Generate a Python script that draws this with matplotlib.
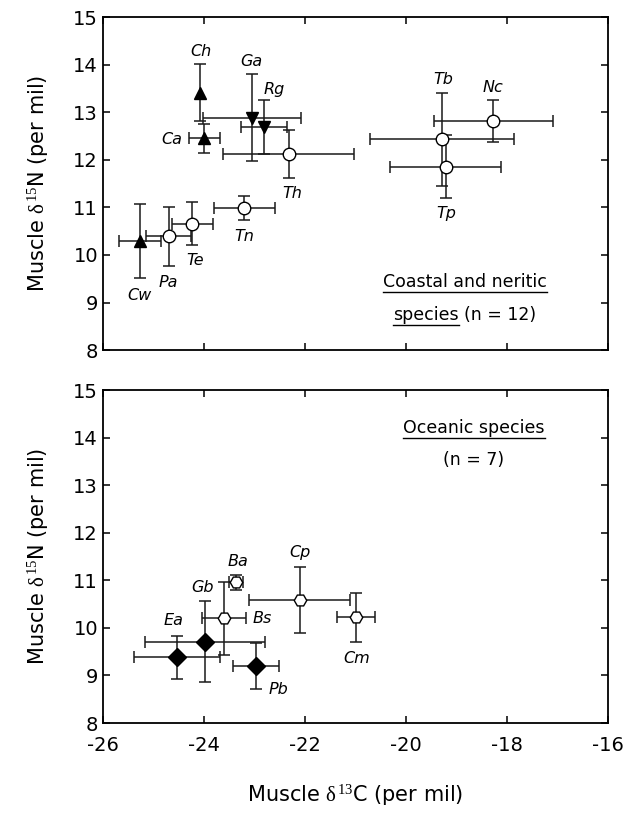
"""
Muscle d13C vs d15N for coastal/neritic and oceanic species, two panels.
Writes out.png
"""

import matplotlib
matplotlib.use("Agg")
import matplotlib.pyplot as plt

# ---- coastal and neritic species (top panel) ----
top_names = ["Ch", "Ca", "Cw", "Ga", "Rg", "Th", "Tn", "Te", "Pa", "Tb", "Nc", "Tp"]
top_x = [-24.08, -23.99, -25.27, -23.04, -22.81, -22.32, -23.20, -24.23, -24.70, -19.29, -18.27, -19.21]
top_xerr = [0.0, 0.30, 0.42, 0.97, 0.45, 1.30, 0.60, 0.40, 0.45, 1.42, 1.18, 1.10]
top_y = [13.41, 12.45, 10.29, 12.89, 12.69, 12.12, 10.99, 10.66, 10.39, 12.43, 12.81, 11.86]
top_yerr = [0.60, 0.30, 0.78, 0.92, 0.57, 0.51, 0.26, 0.45, 0.62, 0.98, 0.44, 0.66]
top_marker = ["^", "^", "^", "v", "v", "o", "o", "o", "o", "o", "o", "o"]
top_lab_x = [-24.05, -24.64, -25.27, -23.06, -22.61, -22.26, -23.21, -24.18, -24.71, -19.26, -18.27, -19.21]
top_lab_y = [14.27, 12.42, 9.15, 14.07, 13.48, 11.30, 10.39, 9.88, 9.42, 13.69, 13.53, 10.87]

# ---- oceanic species (bottom panel) ----
bot_names = ["Ba", "Bs", "Cp", "Cm", "Gb", "Ea", "Pb"]
bot_x = [-23.37, -23.60, -22.10, -20.99, -23.98, -24.54, -22.97]
bot_xerr = [0.14, 0.43, 1.00, 0.37, 1.18, 0.85, 0.46]
bot_y = [10.96, 10.20, 10.59, 10.22, 9.71, 9.38, 9.20]
bot_yerr = [0.16, 0.77, 0.70, 0.52, 0.85, 0.45, 0.49]
bot_marker = ["H", "H", "H", "H", "D", "D", "D"]
bot_lab_x = [-23.33, -22.85, -22.10, -20.98, -24.02, -24.61, -22.53]
bot_lab_y = [11.39, 10.19, 11.58, 9.36, 10.84, 10.15, 8.70]

XTICKS = [-26, -24, -22, -20, -18, -16]
YTICKS = [8, 9, 10, 11, 12, 13, 14, 15]

plt.rcParams["font.family"] = ["DejaVu Sans"]
plt.rcParams["axes.unicode_minus"] = False
# upright serif delta and superscripts, like the original
plt.rcParams["mathtext.fontset"] = "custom"
plt.rcParams["mathtext.it"] = "Liberation Serif"
plt.rcParams["mathtext.rm"] = "Liberation Serif"

fig = plt.figure(figsize=(6.26, 8.18), dpi=100)
ax_top = fig.add_axes([0.1645, 0.572, 0.8067, 0.407])
ax_bot = fig.add_axes([0.1645, 0.1161, 0.8067, 0.407])

filled = {"^": True, "v": True, "D": True, "o": False, "H": False}
msize = {"^": 9, "v": 9, "D": 9, "o": 9, "H": 9}


def draw_panel(ax, names, x, xerr, y, yerr, markers, lx, ly):
    for i in range(len(names)):
        m = markers[i]
        ax.errorbar(x[i], y[i], xerr=xerr[i] if xerr[i] > 0 else None, yerr=yerr[i],
                    fmt="none", ecolor="#1a1a1a", elinewidth=1.1, capsize=4,
                    capthick=1.1, zorder=2)
        ax.plot(x[i], y[i], marker=m, ms=msize[m], ls="none",
                mfc="black" if filled[m] else "white", mec="black", mew=1.0, zorder=3)
        ax.text(lx[i], ly[i], names[i], style="italic", fontsize=11.5,
                ha="center", va="center")
    ax.set_xlim(-26, -16)
    ax.set_ylim(8, 15)
    ax.set_xticks(XTICKS)
    ax.set_yticks(YTICKS)
    ax.tick_params(direction="in", top=True, right=True, length=5, width=1.1,
                   labelsize=14)
    ax.tick_params(axis="x", pad=9)
    for sp in ax.spines.values():
        sp.set_linewidth(1.3)
    ax.set_ylabel(r"Muscle $\delta^{15}$N (per mil)", fontsize=15, labelpad=16)


draw_panel(ax_top, top_names, top_x, top_xerr, top_y, top_yerr, top_marker,
           top_lab_x, top_lab_y)
draw_panel(ax_bot, bot_names, bot_x, bot_xerr, bot_y, bot_yerr, bot_marker,
           bot_lab_x, bot_lab_y)
ax_top.tick_params(labelbottom=False)
ax_bot.set_xlabel(r"Muscle $\delta^{13}$C (per mil)", fontsize=15, labelpad=20)

# group captions (some pieces underlined)
txt_style = dict(fontsize=12.5, va="center")
t1 = ax_top.text(-18.83, 9.43, "Coastal and neritic", ha="center", **txt_style)
t2 = ax_top.text(-18.95, 8.73, "species", ha="right", **txt_style)
ax_top.text(-18.85, 8.73, "(n = 12)", ha="left", **txt_style)
t3 = ax_bot.text(-18.65, 14.20, "Oceanic species", ha="center", **txt_style)
ax_bot.text(-18.67, 13.53, "(n = 7)", ha="center", **txt_style)

fig.canvas.draw()
renderer = fig.canvas.get_renderer()
for ax, t in [(ax_top, t1), (ax_top, t2), (ax_bot, t3)]:
    bb = t.get_window_extent(renderer)
    (x0, y0), (x1, _) = ax.transData.inverted().transform([[bb.x0, bb.y0], [bb.x1, bb.y0]])
    ax.plot([x0, x1], [y0 - 0.02, y0 - 0.02], color="black", lw=1.0, clip_on=False)

fig.savefig("out.png", dpi=100)
